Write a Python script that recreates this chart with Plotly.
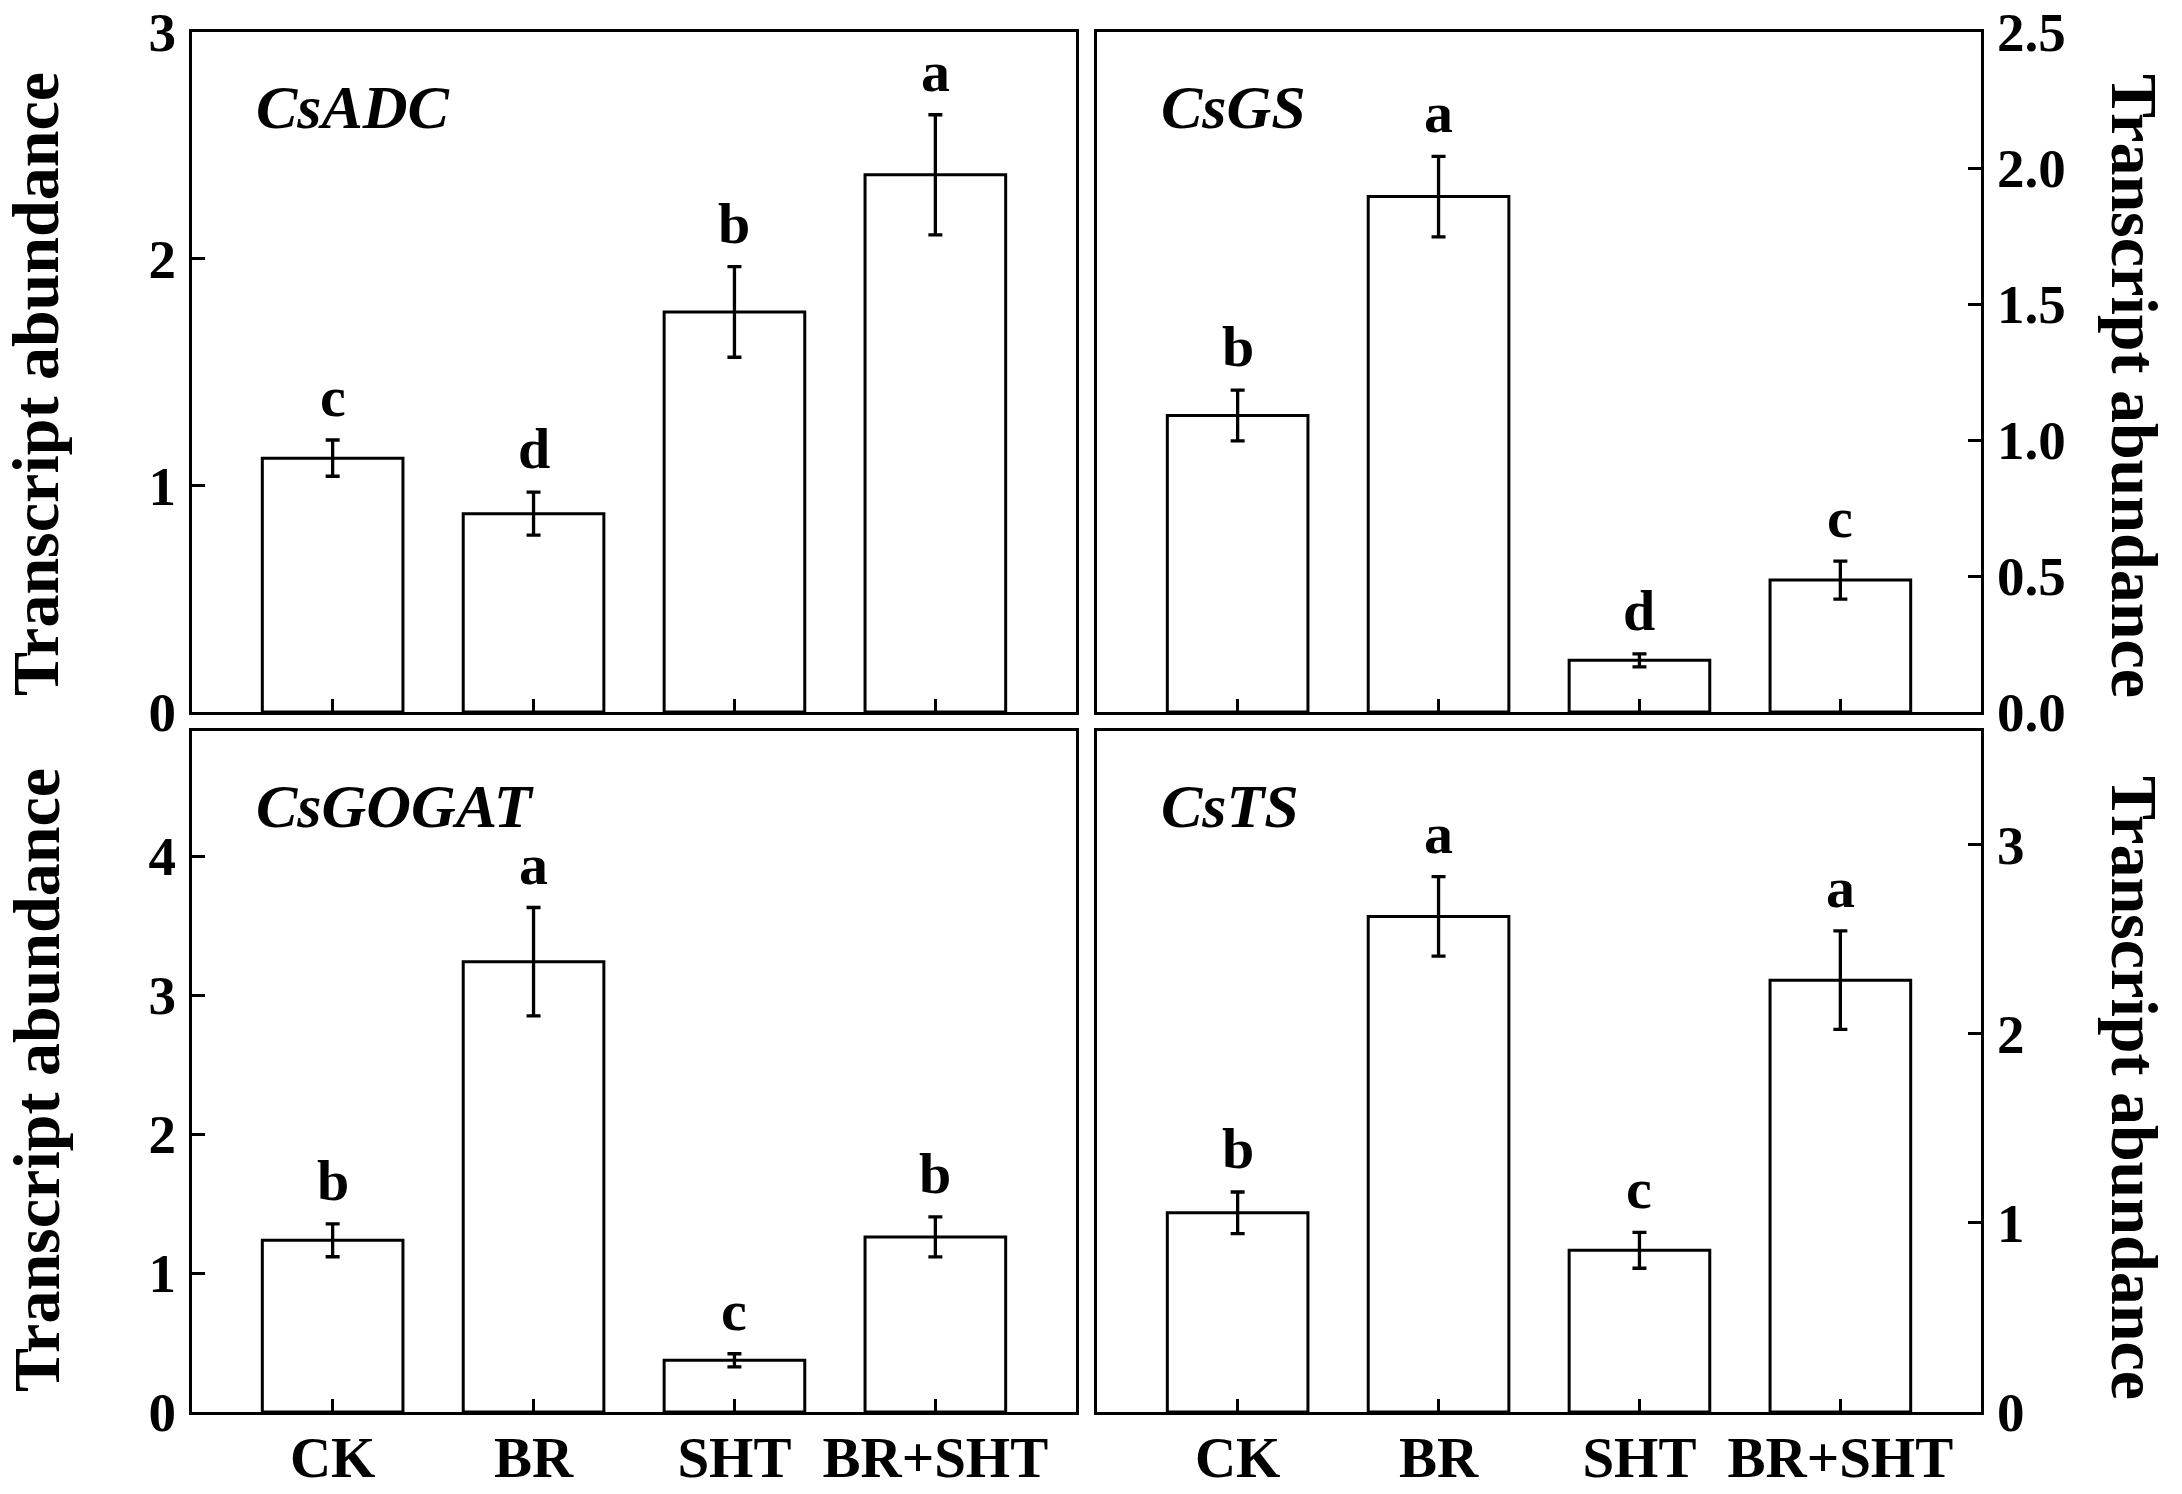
import plotly.graph_objects as go

categories = ["CK", "BR", "SHT", "BR+SHT"]

adc_mean = [1.12, 0.875, 1.765, 2.37]
adc_err = [0.08, 0.095, 0.20, 0.265]
adc_letters = ["c", "d", "b", "a"]

gs_mean = [1.09, 1.895, 0.19, 0.485]
gs_err = [0.093, 0.148, 0.024, 0.07]
gs_letters = ["b", "a", "d", "c"]

gogat_mean = [1.235, 3.24, 0.372, 1.26]
gogat_err = [0.118, 0.39, 0.047, 0.144]
gogat_letters = ["b", "a", "c", "b"]

ts_mean = [1.053, 2.62, 0.855, 2.283]
ts_err = [0.11, 0.21, 0.095, 0.26]
ts_letters = ["b", "a", "c", "a"]

gene_names = ["CsADC", "CsGS", "CsGOGAT", "CsTS"]
y_title = "Transcript abundance"

FONT = "Liberation Serif"
W, H = 2182, 1494
LW = 3

panels = [
    dict(mean=adc_mean, err=adc_err, letters=adc_letters, name=gene_names[0],
         ax="", yrange=[0, 3], tickvals=[0, 1, 2, 3], fmt="d", side="left", labels=False),
    dict(mean=gs_mean, err=gs_err, letters=gs_letters, name=gene_names[1],
         ax="2", yrange=[0, 2.5], tickvals=[0, 0.5, 1.0, 1.5, 2.0, 2.5], fmt=".1f", side="right", labels=False),
    dict(mean=gogat_mean, err=gogat_err, letters=gogat_letters, name=gene_names[2],
         ax="3", yrange=[0, 4.9], tickvals=[0, 1, 2, 3, 4], fmt="d", side="left", labels=True),
    dict(mean=ts_mean, err=ts_err, letters=ts_letters, name=gene_names[3],
         ax="4", yrange=[0, 3.6], tickvals=[0, 1, 2, 3], fmt="d", side="right", labels=True),
]

# pixel layout -> paper fractions
xd_left = [192 / W, 1076 / W]
xd_right = [1097 / W, 1981 / W]
yd_top = [(H - 712) / H, (H - 32) / H]
yd_bot = [(H - 1412) / H, (H - 731) / H]
domains = [(xd_left, yd_top), (xd_right, yd_top), (xd_left, yd_bot), (xd_right, yd_bot)]

fig = go.Figure()
annotations = []
layout = dict(
    width=W, height=H,
    margin=dict(l=0, r=0, t=0, b=0, autoexpand=False),
    paper_bgcolor="white", plot_bgcolor="white",
    showlegend=False,
    font=dict(family=FONT, color="black"),
)

for i, p in enumerate(panels):
    ax = p["ax"]
    xref = "x" + ax
    yref = "y" + ax
    fig.add_trace(go.Bar(
        x=categories, y=p["mean"],
        width=0.7,
        marker=dict(color="white", line=dict(color="black", width=LW)),
        error_y=dict(type="data", array=p["err"], visible=True,
                     color="black", thickness=LW + 0.3, width=7),
        xaxis=xref, yaxis=yref,
        hoverinfo="skip",
    ))
    xd, yd = domains[i]
    layout["xaxis" + ax] = dict(
        domain=xd, anchor=yref, type="category",
        range=[-0.7, 3.7], automargin=False, layer="above traces",
        showline=True, linecolor="black", linewidth=LW, mirror=True,
        ticks="inside", ticklen=13, tickwidth=LW, tickcolor="black",
        showticklabels=p["labels"],
        tickfont=dict(family=FONT, size=57, color="black", weight="bold"),
        ticklabelstandoff=-6,
        showgrid=False, zeroline=False, fixedrange=True,
    )
    layout["yaxis" + ax] = dict(
        domain=yd, anchor=xref, side=p["side"],
        range=p["yrange"], tickvals=p["tickvals"], tickformat=p["fmt"],
        automargin=False, layer="above traces",
        showline=True, linecolor="black", linewidth=LW, mirror=True,
        ticks="inside", ticklen=13, tickwidth=LW, tickcolor="black",
        tickfont=dict(family=FONT, size=55, color="black", weight="bold"),
        ticklabelstandoff=2,
        showgrid=False, zeroline=False, fixedrange=True,
    )
    # gene name
    annotations.append(dict(
        text="<b><i>%s</i></b>" % p["name"],
        xref=xref + " domain", yref=yref + " domain",
        x=0.07, y=0.89, xanchor="left", yanchor="middle",
        showarrow=False, font=dict(family=FONT, size=62, color="black"),
    ))
    # significance letters
    for c, m, e, l in zip(categories, p["mean"], p["err"], p["letters"]):
        annotations.append(dict(
            text="<b>%s</b>" % l, x=c, y=m + e, xref=xref, yref=yref,
            xanchor="center", yanchor="bottom", yshift=9,
            showarrow=False, font=dict(family=FONT, size=58, color="black"),
        ))

# axis titles
annotations += [
    dict(text="<b>%s</b>" % y_title, xref="paper", yref="paper",
         x=36 / W, y=(H - 384) / H, textangle=-90, showarrow=False,
         xanchor="center", yanchor="middle",
         font=dict(family=FONT, size=66, color="black")),
    dict(text="<b>%s</b>" % y_title, xref="paper", yref="paper",
         x=36 / W, y=(H - 1080) / H, textangle=-90, showarrow=False,
         xanchor="center", yanchor="middle",
         font=dict(family=FONT, size=66, color="black")),
    dict(text="<b>%s</b>" % y_title, xref="paper", yref="paper",
         x=2135 / W, y=(H - 386) / H, textangle=90, showarrow=False,
         xanchor="center", yanchor="middle",
         font=dict(family=FONT, size=66, color="black")),
    dict(text="<b>%s</b>" % y_title, xref="paper", yref="paper",
         x=2135 / W, y=(H - 1088) / H, textangle=90, showarrow=False,
         xanchor="center", yanchor="middle",
         font=dict(family=FONT, size=66, color="black")),
]
layout["annotations"] = annotations
fig.update_layout(**layout)
fig.write_html(
    "out.html",
    config={"displayModeBar": False},
    post_script="document.body.style.margin='0';document.body.style.overflow='hidden';",
)
